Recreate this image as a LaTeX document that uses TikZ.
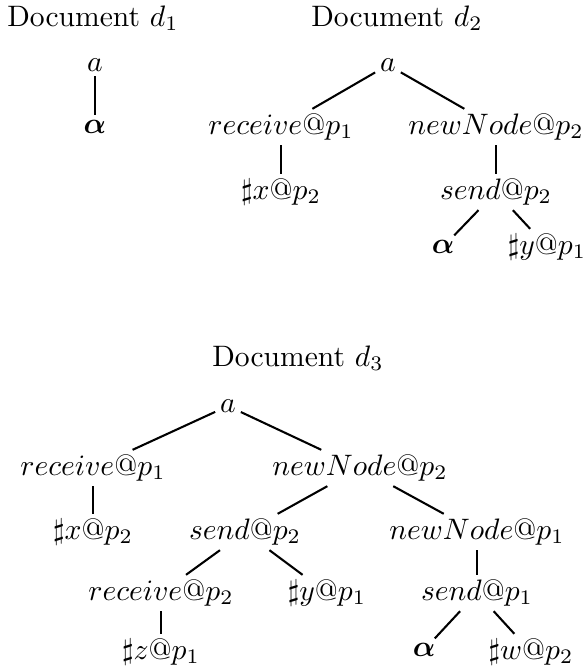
\documentclass[tikz,border=0pt]{standalone}
\usepackage{amsmath,bm}
\begin{document}
\begin{tikzpicture}[x=0.338pt,y=-0.338pt,
  lbl/.style={inner sep=1.5pt},
  edge/.style={draw,line width=0.7pt}]
\useasboundingbox (0,0) rectangle (584,670);
% titles
\node (t1) at (93,18) {Document $d_1$};
\node (t2) at (397,18) {Document $d_2$};
\node (t3) at (298,358) {Document $d_3$};
% d1
\node[lbl] (a1) at (95,65) {$a$};
\node[lbl] (al1) at (95,127) {$\bm{\alpha}$};
\path[edge] (a1) -- (al1);
% d2
\node[lbl] (a2) at (388,65) {$a$};
\node[lbl] (r2) at (281,127) {$receive@p_1$};
\node[lbl] (n2) at (496,127) {$newNode@p_2$};
\node[lbl] (x2) at (281,192) {$\sharp x@p_2$};
\node[lbl] (s2) at (496,192) {$send@p_2$};
\node[lbl] (al2) at (443,247) {$\bm{\alpha}$};
\node[lbl] (y2) at (547,247) {$\sharp y@p_1$};
\path[edge] (a2) -- (r2);
\path[edge] (a2) -- (n2);
\path[edge] (r2) -- (x2);
\path[edge] (n2) -- (s2);
\path[edge] (s2) -- (al2);
\path[edge] (s2) -- (y2);
% d3
\node[lbl] (a3) at (228,406) {$a$};
\node[lbl] (r3) at (93,468) {$receive@p_1$};
\node[lbl] (n3) at (360,468) {$newNode@p_2$};
\node[lbl] (x3) at (93,532) {$\sharp x@p_2$};
\node[lbl] (s3) at (245,532) {$send@p_2$};
\node[lbl] (m3) at (477,532) {$newNode@p_1$};
\node[lbl] (q3) at (161,593) {$receive@p_2$};
\node[lbl] (y3) at (327,593) {$\sharp y@p_1$};
\node[lbl] (u3) at (477,593) {$send@p_1$};
\node[lbl] (z3) at (161,652) {$\sharp z@p_1$};
\node[lbl] (al3) at (424,650) {$\bm{\alpha}$};
\node[lbl] (w3) at (531,652) {$\sharp w@p_2$};
\path[edge] (a3) -- (r3);
\path[edge] (a3) -- (n3);
\path[edge] (r3) -- (x3);
\path[edge] (n3) -- (s3);
\path[edge] (n3) -- (m3);
\path[edge] (s3) -- (q3);
\path[edge] (s3) -- (y3);
\path[edge] (q3) -- (z3);
\path[edge] (m3) -- (u3);
\path[edge] (u3) -- (al3);
\path[edge] (u3) -- (w3);
\end{tikzpicture}
\end{document}
